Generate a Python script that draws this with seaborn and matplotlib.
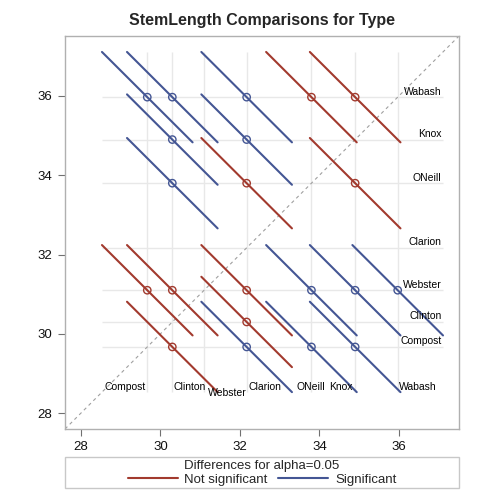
import numpy as np
import pandas as pd
import matplotlib
matplotlib.use("Agg")
import matplotlib.pyplot as plt
from matplotlib.lines import Line2D
from matplotlib.patches import Rectangle
import seaborn as sns

# ---- data ----
types = ["Clarion", "Clinton", "Knox", "ONeill", "Compost", "Wabash", "Webster"]
means = [32.17, 30.30, 34.90, 33.80, 29.67, 35.97, 31.10]
ci_halfwidth = 2.28          # half-width of the CI for a difference (alpha=0.05)
alpha_label = "0.05"

sns.set_style("white")
plt.rcParams["font.family"] = ["Liberation Sans", "DejaVu Sans"]

RED = "#A23A2E"
BLUE = "#445694"

# build segment table
rows, pts = [], []
k = 0
for i in range(len(types)):
    for j in range(i + 1, len(types)):
        mi, mj = means[i], means[j]
        sig = "Significant" if abs(mi - mj) > ci_halfwidth else "Not significant"
        h = ci_halfwidth / 2
        rows.append(dict(pair=k, x=mi - h, y=mj + h, sig=sig))
        rows.append(dict(pair=k, x=mi + h, y=mj - h, sig=sig))
        pts.append(dict(pair=k, x=mi, y=mj, sig=sig))
        k += 1
seg = pd.DataFrame(rows)
cen = pd.DataFrame(pts)
pal = {"Not significant": RED, "Significant": BLUE}

fig = plt.figure(figsize=(5, 5), dpi=100)
ax = fig.add_axes([0.13, 0.142, 0.7886, 0.7866])

lo, hi = 27.6, 37.52
ax.set_xlim(lo, hi)
ax.set_ylim(lo, hi)

# reference grid at the means
g0 = min(means) - ci_halfwidth / 2
g1 = max(means) + ci_halfwidth / 2
ax.hlines(means, g0, g1, color="#e8e8e8", lw=1, zorder=0)
ax.vlines(means, g0, g1, color="#e8e8e8", lw=1, zorder=0)

# diagonal
ax.plot([lo, hi], [lo, hi], ls=(0, (3, 3)), color="#a0a0a0", lw=0.8, zorder=1)

sns.lineplot(data=seg, x="x", y="y", units="pair", hue="sig", estimator=None,
             sort=False, palette=pal, lw=1.5, legend=False, ax=ax, zorder=2)
sns.scatterplot(data=cen, x="x", y="y", hue="sig", palette=pal, marker="o",
                s=28, linewidth=1.0, legend=False, ax=ax, zorder=3)
coll = ax.collections[-1]
coll.set_facecolor("none")
coll.set_edgecolors([pal[s] for s in cen["sig"]])

# right-side labels
for t, m in zip(types, means):
    ax.text(37.07, m + 0.14, t, ha="right", va="center", fontsize=7.5, color="black")

# bottom labels (placement adjusted to avoid collisions like the original)
bottom_place = {
    "Compost": (-0.03, "right", 28.66),
    "Clinton": (0.04, "left", 28.66),
    "Webster": (0.10, "left", 28.52),
    "Clarion": (0.04, "left", 28.66),
    "ONeill": (-0.02, "center", 28.66),
    "Knox": (-0.06, "right", 28.66),
    "Wabash": (0.03, "left", 28.66),
}
for t, m in zip(types, means):
    dx, ha, yy = bottom_place[t]
    ax.text(m + dx, yy, t, ha=ha, va="center", fontsize=7.5, color="black")

ticks = [28, 30, 32, 34, 36]
ax.set_xticks(ticks)
ax.set_yticks(ticks)
ax.set_xlabel("")
ax.set_ylabel("")
ax.tick_params(axis="both", which="both", direction="out", length=5, width=0.8,
               color="#707070", labelsize=9.5, labelcolor="#111111", pad=4,
               bottom=True, left=True)
for s in ax.spines.values():
    s.set_color("#b0b0b0")
    s.set_linewidth(1.0)

fig.text(0.524, 0.96, "StemLength Comparisons for Type", ha="center", va="center",
         fontsize=11.5, fontweight="bold")

# legend box
fig.patches.append(Rectangle((0.13, 0.024), 0.7886, 0.062, transform=fig.transFigure,
                             fill=False, edgecolor="#c8c8c8", lw=1.0))
handles = [Line2D([], [], color=RED, lw=1.5, label="Not significant"),
           Line2D([], [], color=BLUE, lw=1.5, label="Significant")]
leg = fig.legend(handles=handles, title=f"Differences for alpha={alpha_label}", ncol=2,
                 loc="center", bbox_to_anchor=(0.524, 0.054), frameon=False,
                 fontsize=9.5, title_fontsize=9.5, handlelength=3.8, handletextpad=0.5,
                 columnspacing=0.8, borderpad=0.0, labelspacing=0.1)
leg._legend_box.sep = 1

fig.savefig("out.png", dpi=100)
